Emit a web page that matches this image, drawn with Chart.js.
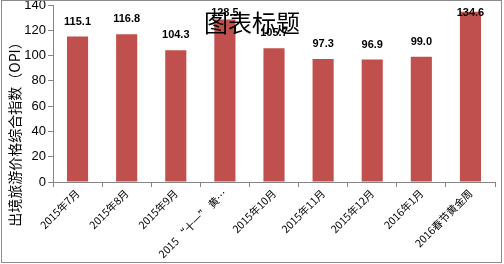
<!DOCTYPE html>
<html><head><meta charset="utf-8">
<script src="https://cdn.jsdelivr.net/npm/chart.js@4/dist/chart.umd.min.js"></script>
<style>html,body{margin:0;padding:0;background:#fff;}#wrap{width:504px;height:264px;position:relative;}</style>
</head><body><div id="wrap"><canvas id="c" width="504" height="264"></canvas></div>
<script>
const categories = ["2015年7月","2015年8月","2015年9月","2015 “十一” 黄…","2015年10月","2015年11月","2015年12月","2016年1月","2016春节黄金周"];
const opiValues = [115.1, 116.8, 104.3, 128.5, 105.7, 97.3, 96.9, 99.0, 134.6];
const yTicks = [0, 20, 40, 60, 80, 100, 120, 140];
const chartTitle = "图表标题";
const yTitle = "出境旅游价格综合指数（OPI）";

const labelsPlugin = {
  id: 'valLabels',
  afterDatasetsDraw(chart) {
    const ctx = chart.ctx;
    const meta = chart.getDatasetMeta(0);
    ctx.save();
    ctx.font = 'bold 11px "Liberation Sans", Arial, sans-serif';
    ctx.fillStyle = '#000';
    ctx.textAlign = 'center';
    ctx.textBaseline = 'middle';
    meta.data.forEach((bar, i) => {
      ctx.fillText(opiValues[i].toFixed(1), bar.x, Math.max(bar.y - 15, 12.5));
    });
    ctx.restore();
  },
  afterDraw(chart) {
    const ctx = chart.ctx;
    ctx.save();
    ctx.font = '24px "Noto Sans CJK SC", sans-serif';
    ctx.fillStyle = '#000';
    ctx.textAlign = 'center';
    ctx.textBaseline = 'middle';
    ctx.fillText(chartTitle, 252, 23);
    ctx.translate(15, 131);
    ctx.rotate(-Math.PI / 2);
    ctx.font = '14px "Noto Sans CJK SC", sans-serif';
    ctx.fillText(yTitle, 0, 0);
    ctx.restore();
    ctx.save();
    ctx.strokeStyle = '#8c8c8c';
    ctx.lineWidth = 1;
    ctx.strokeRect(1.5, 0.5, 500, 262);
    ctx.restore();
  }
};

new Chart(document.getElementById('c'), {
  type: 'bar',
  data: {
    labels: categories,
    datasets: [{
      data: opiValues,
      backgroundColor: '#C0504D',
      categoryPercentage: 0.86,
      barPercentage: 0.5
    }]
  },
  options: {
    responsive: false,
    animation: false,
    layout: { padding: { top: 5, right: 9, left: 0, bottom: 0 } },
    plugins: { legend: { display: false }, tooltip: { enabled: false } },
    scales: {
      y: {
        min: 0, max: 140,
        afterBuildTicks(s) { s.ticks = yTicks.map(v => ({ value: v })); },
        afterFit(s) { s.width = 53; s.paddingTop = 0; s.paddingBottom = 0; },
        grid: { display: true, drawOnChartArea: false, drawTicks: true, tickLength: 5, color: '#868686' },
        border: { color: '#868686' },
        ticks: { color: '#000', font: { size: 13, family: '"Liberation Sans", Arial, sans-serif' }, padding: 2 }
      },
      x: {
        afterFit(s) { s.height = 82; },
        grid: { display: true, offset: true, drawOnChartArea: false, drawTicks: true, tickLength: 5, color: '#868686' },
        border: { color: '#868686' },
        ticks: { color: '#000', maxRotation: 45, minRotation: 45, autoSkip: false, font: { size: 10.5, family: '"Noto Sans CJK SC", sans-serif' }, padding: 0 }
      }
    }
  },
  plugins: [labelsPlugin]
});
</script>
</body></html>
